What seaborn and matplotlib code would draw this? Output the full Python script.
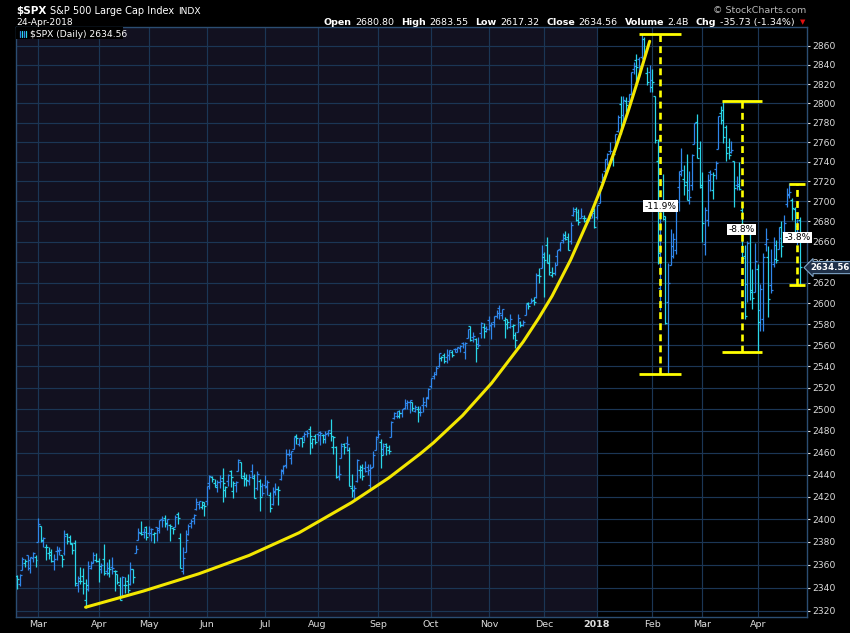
import numpy as np
import pandas as pd
import matplotlib
matplotlib.use("Agg")
import matplotlib.pyplot as plt
import matplotlib.transforms as mtransforms
from matplotlib.lines import Line2D
from matplotlib.patches import Rectangle
from matplotlib.ticker import FixedLocator, FixedFormatter, NullLocator
import seaborn as sns

# trading days (weekdays minus exchange holidays)
start_day = "2017-02-16"
end_day = "2018-04-24"
holidays = ["2017-02-20", "2017-04-14", "2017-05-29", "2017-07-04", "2017-09-04",
            "2017-11-23", "2017-12-25", "2018-01-01", "2018-01-15", "2018-02-19",
            "2018-03-30"]

# daily OHLC, one line per month (Feb-2017 ... Apr-2018)
opens = [
    2350, 2343, 2355, 2361, 2368, 2357, 2366, 2367,
    2380, 2394, 2381, 2375, 2370, 2371, 2363, 2372, 2372, 2368, 2370, 2387, 2384, 2379, 2379, 2342, 2346, 2350, 2329, 2339, 2357, 2362, 2364,
    2363, 2356, 2365, 2354, 2353, 2358, 2354, 2352, 2342, 2333, 2342, 2346, 2343, 2356, 2370, 2382, 2388, 2389, 2393,
    2388, 2391, 2387, 2393, 2392, 2400, 2401, 2396, 2395, 2392, 2393, 2405, 2383, 2354, 2371, 2387, 2397, 2401, 2409, 2414, 2411, 2415,
    2416, 2432, 2438, 2432, 2431, 2433, 2437, 2426, 2434, 2443, 2425, 2431, 2443, 2451, 2439, 2437, 2434, 2443, 2437, 2428, 2434, 2430,
    2431, 2430, 2422, 2414, 2424, 2427, 2436, 2444, 2449, 2459, 2455, 2463, 2475, 2468, 2473, 2475, 2480, 2482, 2469, 2475,
    2477, 2479, 2476, 2476, 2478, 2478, 2465, 2465, 2439, 2455, 2468, 2469, 2462, 2428, 2425, 2434, 2444, 2447, 2446, 2447, 2431, 2447, 2462,
    2474, 2470, 2463, 2468, 2462, 2474, 2492, 2494, 2494, 2496, 2501, 2506, 2507, 2507, 2498, 2500, 2500, 2504, 2504, 2511,
    2521, 2531, 2533, 2540, 2548, 2551, 2549, 2551, 2553, 2556, 2556, 2557, 2562, 2553, 2567, 2578, 2568, 2566, 2561, 2571, 2577, 2576,
    2584, 2578, 2582, 2588, 2595, 2589, 2584, 2580, 2577, 2578, 2570, 2572, 2582, 2579, 2589, 2600, 2600, 2603, 2606, 2627, 2634,
    2645, 2657, 2640, 2627, 2629, 2646, 2653, 2662, 2667, 2665, 2661, 2686, 2692, 2689, 2683, 2683, 2680, 2682, 2686, 2690,
    2684, 2698, 2719, 2731, 2743, 2751, 2745, 2752, 2771, 2799, 2788, 2802, 2802, 2810, 2836, 2845, 2846, 2848, 2867, 2832, 2833,
    2817, 2808, 2741, 2615, 2690, 2685, 2601, 2637, 2646, 2652, 2714, 2728, 2722, 2719, 2711, 2716, 2758, 2781, 2754,
    2716, 2658, 2681, 2730, 2711, 2733, 2753, 2790, 2793, 2775, 2755, 2750, 2741, 2716, 2715, 2691, 2646, 2619, 2668, 2611, 2611,
    2633, 2593, 2585, 2658, 2645, 2618, 2638, 2643, 2653, 2674, 2670, 2697, 2707, 2701, 2692, 2675, 2681,
]
highs = [
    2351, 2352, 2367, 2365, 2368, 2367, 2371, 2368,
    2401, 2394, 2384, 2378, 2375, 2374, 2369, 2376, 2375, 2368, 2390, 2388, 2386, 2379, 2382, 2350, 2358, 2357, 2347, 2363, 2363, 2371, 2370,
    2366, 2361, 2378, 2362, 2365, 2367, 2355, 2352, 2349, 2350, 2349, 2352, 2362, 2356, 2377, 2392, 2398, 2392, 2394,
    2394, 2392, 2389, 2393, 2399, 2403, 2404, 2400, 2396, 2393, 2404, 2406, 2388, 2375, 2390, 2396, 2400, 2405, 2419, 2416, 2416, 2415,
    2430, 2440, 2439, 2436, 2435, 2440, 2446, 2430, 2441, 2444, 2434, 2434, 2454, 2451, 2442, 2441, 2441, 2450, 2441, 2443, 2436, 2432,
    2440, 2435, 2424, 2429, 2432, 2430, 2445, 2449, 2463, 2463, 2461, 2474, 2477, 2473, 2474, 2479, 2481, 2484, 2473, 2477,
    2478, 2480, 2477, 2480, 2481, 2491, 2475, 2466, 2449, 2469, 2469, 2475, 2465, 2441, 2431, 2454, 2449, 2450, 2452, 2450, 2450, 2461, 2475,
    2481, 2472, 2469, 2469, 2467, 2489, 2497, 2498, 2499, 2500, 2509, 2508, 2508, 2507, 2504, 2503, 2503, 2511, 2511, 2520,
    2529, 2535, 2540, 2552, 2550, 2552, 2556, 2555, 2555, 2557, 2558, 2560, 2563, 2563, 2575, 2578, 2572, 2567, 2568, 2582, 2581, 2578,
    2588, 2582, 2588, 2593, 2598, 2594, 2587, 2585, 2590, 2580, 2572, 2590, 2583, 2584, 2599, 2601, 2605, 2606, 2629, 2634, 2657,
    2650, 2665, 2648, 2635, 2640, 2652, 2660, 2669, 2671, 2669, 2679, 2694, 2694, 2692, 2693, 2686, 2682, 2686, 2688, 2693,
    2696, 2715, 2729, 2743, 2749, 2760, 2751, 2768, 2788, 2808, 2807, 2806, 2810, 2833, 2843, 2852, 2848, 2873, 2870, 2838, 2840,
    2836, 2808, 2763, 2701, 2728, 2685, 2639, 2672, 2669, 2702, 2731, 2754, 2737, 2748, 2731, 2748, 2780, 2789, 2761,
    2730, 2694, 2728, 2732, 2730, 2741, 2787, 2797, 2802, 2777, 2764, 2761, 2741, 2725, 2740, 2696, 2657, 2661, 2675, 2633, 2659,
    2638, 2619, 2649, 2673, 2656, 2653, 2665, 2662, 2674, 2680, 2686, 2713, 2718, 2703, 2694, 2682, 2684,
]
lows = [
    2339, 2341, 2355, 2358, 2355, 2353, 2362, 2358,
    2380, 2380, 2375, 2364, 2365, 2362, 2355, 2364, 2368, 2358, 2368, 2378, 2378, 2369, 2341, 2336, 2343, 2334, 2322, 2337, 2356, 2361, 2362,
    2345, 2353, 2351, 2351, 2349, 2352, 2337, 2343, 2329, 2333, 2335, 2335, 2342, 2344, 2370, 2382, 2386, 2383, 2382,
    2385, 2381, 2379, 2381, 2388, 2393, 2393, 2390, 2381, 2387, 2393, 2396, 2357, 2352, 2371, 2386, 2392, 2396, 2408, 2409, 2409, 2403,
    2413, 2427, 2433, 2429, 2424, 2428, 2415, 2420, 2430, 2429, 2419, 2424, 2443, 2437, 2430, 2430, 2431, 2437, 2419, 2426, 2407, 2421,
    2428, 2422, 2406, 2413, 2422, 2413, 2435, 2441, 2446, 2457, 2450, 2463, 2468, 2466, 2465, 2471, 2474, 2459, 2464, 2468,
    2471, 2467, 2469, 2469, 2475, 2471, 2459, 2437, 2435, 2455, 2459, 2461, 2430, 2420, 2417, 2433, 2437, 2435, 2442, 2440, 2428, 2447, 2462,
    2473, 2446, 2458, 2458, 2459, 2474, 2491, 2492, 2492, 2493, 2500, 2500, 2496, 2498, 2497, 2488, 2494, 2497, 2502, 2509,
    2520, 2528, 2532, 2539, 2545, 2543, 2543, 2546, 2549, 2553, 2553, 2553, 2557, 2547, 2567, 2564, 2563, 2544, 2558, 2567, 2567, 2572,
    2574, 2566, 2577, 2586, 2585, 2585, 2567, 2575, 2576, 2566, 2557, 2572, 2577, 2578, 2589, 2594, 2600, 2598, 2605, 2620, 2634,
    2606, 2639, 2627, 2625, 2627, 2637, 2651, 2659, 2662, 2652, 2658, 2685, 2680, 2676, 2683, 2679, 2677, 2680, 2683, 2673,
    2682, 2698, 2719, 2728, 2737, 2748, 2736, 2752, 2770, 2768, 2778, 2791, 2799, 2809, 2830, 2818, 2830, 2846, 2850, 2819, 2812,
    2812, 2759, 2638, 2593, 2681, 2580, 2533, 2637, 2644, 2648, 2690, 2725, 2706, 2701, 2697, 2711, 2758, 2744, 2713,
    2660, 2647, 2675, 2710, 2702, 2722, 2753, 2779, 2759, 2741, 2743, 2749, 2694, 2711, 2711, 2641, 2585, 2601, 2603, 2594, 2611,
    2554, 2573, 2573, 2651, 2587, 2610, 2635, 2639, 2653, 2645, 2665, 2694, 2703, 2681, 2660, 2657, 2617,
]
closes = [
    2347, 2351, 2365, 2363, 2364, 2367, 2370, 2364,
    2396, 2382, 2383, 2375, 2368, 2363, 2365, 2373, 2373, 2365, 2385, 2381, 2378, 2373, 2344, 2348, 2346, 2344, 2342, 2359, 2361, 2368, 2363,
    2359, 2360, 2353, 2357, 2356, 2357, 2354, 2345, 2329, 2349, 2342, 2338, 2356, 2349, 2374, 2389, 2387, 2389, 2384,
    2388, 2391, 2388, 2390, 2399, 2399, 2397, 2400, 2394, 2391, 2402, 2401, 2357, 2366, 2382, 2394, 2398, 2404, 2415, 2416, 2413, 2412,
    2430, 2439, 2436, 2429, 2433, 2434, 2432, 2429, 2440, 2438, 2432, 2433, 2453, 2437, 2436, 2435, 2438, 2439, 2419, 2441, 2420, 2423,
    2429, 2433, 2410, 2425, 2427, 2426, 2443, 2448, 2459, 2459, 2461, 2474, 2473, 2473, 2470, 2477, 2478, 2475, 2472, 2470,
    2476, 2478, 2472, 2477, 2481, 2475, 2474, 2438, 2441, 2466, 2465, 2468, 2430, 2426, 2428, 2453, 2444, 2439, 2443, 2444, 2446, 2458, 2472,
    2477, 2458, 2466, 2465, 2461, 2488, 2496, 2498, 2496, 2500, 2504, 2507, 2508, 2501, 2502, 2497, 2497, 2507, 2510, 2519,
    2529, 2535, 2538, 2552, 2549, 2545, 2551, 2555, 2551, 2553, 2558, 2559, 2561, 2562, 2575, 2565, 2569, 2557, 2560, 2581, 2573, 2575,
    2579, 2580, 2588, 2591, 2591, 2594, 2585, 2582, 2585, 2579, 2565, 2586, 2579, 2582, 2599, 2597, 2602, 2601, 2627, 2626, 2648,
    2642, 2639, 2630, 2629, 2637, 2652, 2660, 2664, 2663, 2652, 2676, 2690, 2681, 2679, 2685, 2683, 2680, 2683, 2688, 2674,
    2696, 2713, 2724, 2743, 2748, 2751, 2748, 2768, 2786, 2776, 2803, 2798, 2810, 2833, 2839, 2838, 2839, 2873, 2854, 2822, 2824,
    2822, 2762, 2649, 2695, 2682, 2581, 2620, 2656, 2663, 2699, 2731, 2732, 2716, 2701, 2704, 2747, 2780, 2744, 2714,
    2678, 2691, 2721, 2728, 2727, 2739, 2787, 2783, 2765, 2749, 2747, 2752, 2713, 2717, 2712, 2644, 2588, 2659, 2613, 2605, 2641,
    2582, 2614, 2645, 2663, 2604, 2613, 2657, 2642, 2664, 2656, 2678, 2706, 2709, 2693, 2670, 2670, 2635,
]

# hand drawn parabolic trend line
curve_dates = ["2017-03-27", "2017-04-27", "2017-05-26", "2017-06-23", "2017-07-21",
               "2017-08-18", "2017-09-08", "2017-09-26", "2017-10-03", "2017-10-18",
               "2017-11-02", "2017-11-20", "2017-11-29", "2017-12-06", "2017-12-15",
               "2017-12-27", "2018-01-04", "2018-01-11", "2018-01-19", "2018-01-25",
               "2018-01-31"]
curve_prices = [2323, 2337, 2352, 2368, 2388, 2415, 2437, 2459, 2469, 2494,
                2524, 2563, 2586, 2607, 2642, 2683, 2716, 2753, 2793, 2828, 2865]

# drawdown measurements
drop_dates = ["2018-02-06", "2018-03-22", "2018-04-23"]
drop_tops = [2872.87, 2801.90, 2717.49]
drop_bottoms = [2532.69, 2553.80, 2617.32]
drop_labels = ["-11.9%", "-8.8%", "-3.8%"]
drop_label_prices = [2695, 2672, 2664]
drop_cap_days = [8, 7.6, 3]

month_labels = ["Mar", "Apr", "May", "Jun", "Jul", "Aug", "Sep", "Oct", "Nov", "Dec",
                "2018", "Feb", "Mar", "Apr"]
last_close = 2634.56

days = pd.bdate_range(start_day, end_day)
days = days[~days.isin(pd.to_datetime(holidays))]
df = pd.DataFrame({"date": days, "open": opens, "high": highs, "low": lows, "close": closes})
df["pos"] = np.arange(len(df))
prev = df["close"].shift(1).fillna(df["open"])
df["up"] = df["close"] >= prev
pos_of = dict(zip(df["date"], df["pos"]))

sns.set_theme(style="dark", rc={"axes.facecolor": "black", "figure.facecolor": "black"})
plt.rcParams["font.family"] = ["DejaVu Sans"]

W, H = 850, 633
fig = plt.figure(figsize=(W / 100, H / 100), dpi=100)
ax = fig.add_axes([16 / W, 1 - 617 / H, (807 - 16) / W, (617 - 27) / H])
ax.set_yscale("log")
ax.set_xlim(-0.4, 299.7)
ax.set_ylim(2314.6, 2880.2)

blue, cyan = "#2f86ea", "#29d6e8"
grid_c = "#1b3655"

# 2017 shading
y2018 = pos_of[pd.Timestamp("2018-01-02")]
ax.axvspan(-0.4, y2018, color="#121120", zorder=0, lw=0)

# OHLC bars
for up, c in [(True, blue), (False, cyan)]:
    d = df[df["up"] == up]
    ax.vlines(d["pos"], d["low"], d["high"], color=c, lw=0.9, zorder=3)
    ax.hlines(d["open"], d["pos"] - 0.75, d["pos"], color=c, lw=0.9, zorder=3)
    ax.hlines(d["close"], d["pos"], d["pos"] + 0.75, color=c, lw=0.9, zorder=3)

# trend curve
curve = pd.DataFrame({"pos": [pos_of[pd.Timestamp(d)] for d in curve_dates],
                      "price": curve_prices})
sns.lineplot(data=curve, x="pos", y="price", color="#f3e700", lw=2.2, ax=ax,
             sort=False, zorder=5)

# drawdown markers
for d, top, bot, lab, lp, cap in zip(drop_dates, drop_tops, drop_bottoms,
                                      drop_labels, drop_label_prices, drop_cap_days):
    p = pos_of[pd.Timestamp(d)]
    ax.plot([p, p], [bot, top], color="#ffff00", lw=1.9, ls=(0, (2.6, 1.6)), zorder=6)
    ax.plot([p - cap, p + cap], [top, top], color="#ffff00", lw=2.0, zorder=6,
            solid_capstyle="butt", clip_on=False)
    ax.plot([p - cap, p + cap], [bot, bot], color="#ffff00", lw=2.0, zorder=6,
            solid_capstyle="butt", clip_on=False)
    ax.text(p, lp, lab, ha="center", va="center", fontsize=6.6, color="black", zorder=7,
            bbox=dict(boxstyle="square,pad=0.15", fc="white", ec="none"))

# axes, grid
yt = list(range(2320, 2861, 20))
ax.yaxis.set_major_locator(FixedLocator(yt))
ax.yaxis.set_major_formatter(FixedFormatter([str(v) for v in yt]))
ax.yaxis.set_minor_locator(NullLocator())
ax.yaxis.tick_right()
month_pos = df.groupby(df["date"].dt.to_period("M"))["pos"].min().iloc[1:].tolist()
ax.set_xticks(month_pos)
ax.set_xticklabels(month_labels)
ax.grid(True, color=grid_c, lw=0.85, zorder=1)
ax.set_axisbelow(True)
ax.set_xlabel("")
ax.set_ylabel("")
ax.tick_params(axis="y", colors="#dddddd", labelsize=6.6, length=2.5, width=0.8, pad=1.5,
               right=True, left=False, labelright=True, labelleft=False)
ax.tick_params(axis="x", colors="#dddddd", labelsize=6.8, length=0, pad=2.5)
for t in ax.get_xticklabels():
    if t.get_text() == "2018":
        t.set_fontweight("bold")
for s in ax.spines.values():
    s.set_visible(True)
    s.set_color("#2b4d72")
    s.set_linewidth(1.0)

# last price tag
tr = mtransforms.blended_transform_factory(ax.transAxes, ax.transData)
ax.text(1.0 + 3.5 / 791, last_close, "2634.56", transform=tr, ha="left", va="center",
        fontsize=6.2, fontweight="bold", color="white", clip_on=False, zorder=8,
        bbox=dict(boxstyle="larrow,pad=0.18", fc="#1f3048", ec="#7ea3c6", lw=0.8))

# legend box inside plot
fig.patches.append(Rectangle((16 / W, 1 - 38.5 / H), 107 / W, 11 / H, transform=fig.transFigure,
                             fc="black", ec="none", zorder=9))
for xx, c in [(19.5, blue), (21.5, cyan), (24.0, blue), (26.0, cyan)]:
    fig.add_artist(Line2D([xx / W, xx / W], [1 - 36.5 / H, 1 - 30.5 / H], color=c, lw=0.9, zorder=10))
fig.text(29.5 / W, 1 - 37.2 / H, "$SPX (Daily) 2634.56", fontsize=6.6, color="white",
         va="baseline", zorder=11)

# header
fig.text(16 / W, 1 - 13.5 / H, "$SPX", fontsize=7.5, fontweight="bold", color="white", va="baseline")
fig.text(50 / W, 1 - 13.5 / H, "S&P 500 Large Cap Index", fontsize=7.0, color="white", va="baseline")
fig.text(178 / W, 1 - 13.5 / H, "INDX", fontsize=6.6, color="white", va="baseline")
fig.text(16 / W, 1 - 25 / H, "24-Apr-2018", fontsize=6.6, color="white", va="baseline")
fig.text(806 / W, 1 - 13 / H, "\u00a9 StockCharts.com", fontsize=6.8, color="#b8b8b8",
         ha="right", va="baseline")

pieces = [("Open", True), ("2680.80", False), ("High", True), ("2683.55", False),
          ("Low", True), ("2617.32", False), ("Close", True), ("2634.56", False),
          ("Volume", True), ("2.4B", False), ("Chg", True), ("-35.73 (-1.34%)", False)]
renderer = fig.canvas.get_renderer()
xx = 323.5
for s, b in pieces:
    t = fig.text(xx / W, 1 - 25 / H, s, fontsize=6.8, color="white", va="baseline",
                 fontweight="bold" if b else "normal")
    xx += t.get_window_extent(renderer).width + (3.5 if b else 7.0)
fig.text(803 / W, 1 - 22 / H, "\u25bc", fontsize=5, color="#e01010", ha="center", va="center")

fig.savefig("out.png", dpi=100, facecolor="black")
